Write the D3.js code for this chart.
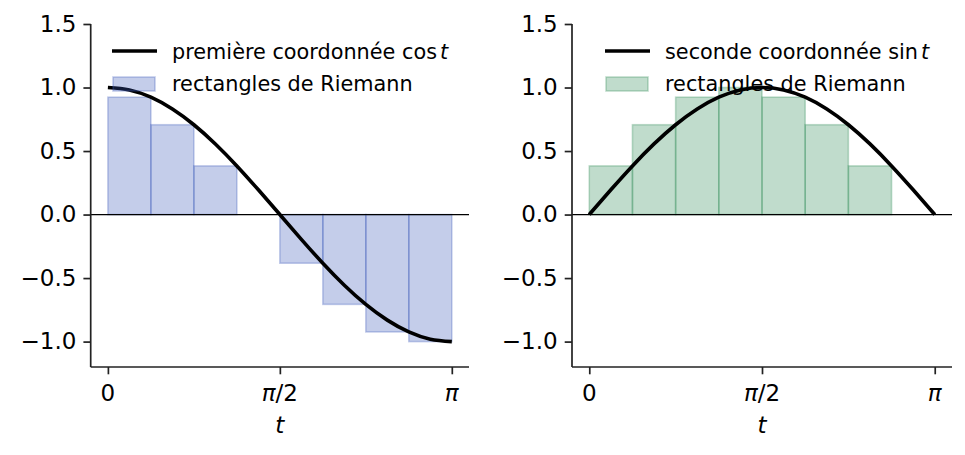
<!DOCTYPE html>
<html>
<head>
<meta charset="utf-8">
<script src="https://cdn.jsdelivr.net/npm/d3@7"></script>
<style>
  body { margin: 0; background: #fff; }
  text { font-family: "DejaVu Sans", sans-serif; fill: #000; }
  .math { font-style: italic; }
</style>
</head>
<body>
<div id="chart"></div>
<script>
// t positions in units of pi
var tSamples = [0, 0.0625, 0.125, 0.1875, 0.25, 0.3125, 0.375, 0.4375, 0.5,
  0.5625, 0.625, 0.6875, 0.75, 0.8125, 0.875, 0.9375, 1];
var cosValues = [1, 0.981, 0.924, 0.831, 0.707, 0.556, 0.383, 0.195, 0,
  -0.195, -0.383, -0.556, -0.707, -0.831, -0.924, -0.981, -1];
var sinValues = [0, 0.195, 0.383, 0.556, 0.707, 0.831, 0.924, 0.981, 1,
  0.981, 0.924, 0.831, 0.707, 0.556, 0.383, 0.195, 0];

// Riemann rectangles: left edges (units of pi), width 1/8
var barLefts = [0, 0.125, 0.25, 0.375, 0.5, 0.625, 0.75, 0.875];
var barWidth = 0.125;
var cosHeights = [0.924, 0.707, 0.383, 0, -0.383, -0.707, -0.924, -1.0];
var sinHeights = [0.383, 0.707, 0.924, 1.0, 0.924, 0.707, 0.383, 0];

var xTicks = [0, 0.5, 1];
// [italic part, upright part]
var xTickLabels = [["", "0"], ["π", "/2"], ["π", ""]];
var yTicks = [-1.0, -0.5, 0.0, 0.5, 1.0, 1.5];

var svgWidth = 965;
var svgHeight = 455;

var svg = d3.select("#chart")
  .append("svg")
  .attr("width", svgWidth)
  .attr("height", svgHeight);

var fs = 20.8;     // legend
var tickFs = 23;   // ticks and axis label

var panels = [
  { left: 90.7, right: 469, values: cosValues, bars: cosHeights, color: "#3c5ab9",
    label: "première coordonnée ", fn: "cos", legendX: 112 },
  { left: 572, right: 952, values: sinValues, bars: sinHeights, color: "#2e8b57",
    label: "seconde coordonnée ", fn: "sin", legendX: 605 }
];

var plotTop = 24, plotBottom = 367;

panels.forEach(function(p) {
  var x = d3.scaleLinear().domain([-0.05, 1.05]).range([p.left, p.right]);
  var y = d3.scaleLinear().domain([-1.2, 1.5]).range([plotBottom, plotTop]);
  var g = svg.append("g");

  // bars
  g.selectAll("rect.bar")
    .data(p.bars)
    .enter()
    .append("rect")
    .attr("class", "bar")
    .attr("x", (d, i) => x(barLefts[i]))
    .attr("width", x(barWidth) - x(0))
    .attr("y", d => y(Math.max(0, d)))
    .attr("height", d => Math.abs(y(d) - y(0)))
    .attr("fill", p.color)
    .attr("fill-opacity", 0.3)
    .attr("stroke", p.color)
    .attr("stroke-opacity", 0.3)
    .attr("stroke-width", 1.6);

  // horizontal line at 0
  g.append("line")
    .attr("x1", p.left).attr("x2", p.right)
    .attr("y1", y(0)).attr("y2", y(0))
    .attr("stroke", "#000")
    .attr("stroke-width", 1.3);

  // curve
  var line = d3.line()
    .x((d, i) => x(tSamples[i]))
    .y(d => y(d))
    .curve(d3.curveNatural);
  g.append("path")
    .datum(p.values)
    .attr("d", line)
    .attr("fill", "none")
    .attr("stroke", "#000")
    .attr("stroke-width", 3.6);

  // axes
  var bottomAxis = d3.axisBottom(x).tickValues(xTicks).tickSize(7.3).tickFormat("");
  var leftAxis = d3.axisLeft(y).tickValues(yTicks).tickSize(7.3).tickPadding(7)
    .tickFormat(d => d3.format(".1f")(d).replace("-", "−"));

  var gx = g.append("g")
    .attr("transform", `translate(0, ${plotBottom})`)
    .call(bottomAxis);
  gx.select(".domain").attr("d", `M${p.left},0H${p.right}`);

  var gy = g.append("g")
    .attr("transform", `translate(${p.left}, 0)`)
    .call(leftAxis);
  gy.select(".domain").attr("d", `M0,${plotTop}V${plotBottom}`);

  [gx, gy].forEach(function(a) {
    a.selectAll(".domain").attr("stroke", "#222").attr("stroke-width", 1.7);
    a.selectAll(".tick line").attr("stroke", "#222").attr("stroke-width", 1.7);
    a.selectAll(".tick text").style("font-size", tickFs + "px").attr("fill", "#000");
  });

  // x tick labels (math style)
  xTicks.forEach(function(t, i) {
    var tx = g.append("text")
      .attr("x", x(t))
      .attr("y", 401)
      .attr("text-anchor", "middle")
      .style("font-size", tickFs + "px");
    if (xTickLabels[i][0]) tx.append("tspan").attr("class", "math").text(xTickLabels[i][0]);
    if (xTickLabels[i][1]) tx.append("tspan").text(xTickLabels[i][1]);
  });

  // x label
  g.append("text")
    .attr("class", "math")
    .attr("x", x(0.5))
    .attr("y", 433)
    .attr("text-anchor", "middle")
    .style("font-size", tickFs + "px")
    .text("t");

  // legend
  var lg = g.append("g");
  lg.append("line")
    .attr("x1", p.legendX).attr("x2", p.legendX + 45)
    .attr("y1", 51).attr("y2", 51)
    .attr("stroke", "#000").attr("stroke-width", 3.6);
  var t1 = lg.append("text")
    .attr("x", p.legendX + 60)
    .attr("y", 59)
    .style("font-size", fs + "px");
  t1.append("tspan").text(p.label + p.fn);
  t1.append("tspan").attr("class", "math").attr("dx", 3).text("t");

  lg.append("rect")
    .attr("x", p.legendX + 1).attr("y", 77)
    .attr("width", 42).attr("height", 14)
    .attr("fill", p.color).attr("fill-opacity", 0.3)
    .attr("stroke", p.color).attr("stroke-opacity", 0.3)
    .attr("stroke-width", 1.6);
  lg.append("text")
    .attr("x", p.legendX + 60)
    .attr("y", 91)
    .style("font-size", fs + "px")
    .text("rectangles de Riemann");
});
</script>
</body>
</html>
